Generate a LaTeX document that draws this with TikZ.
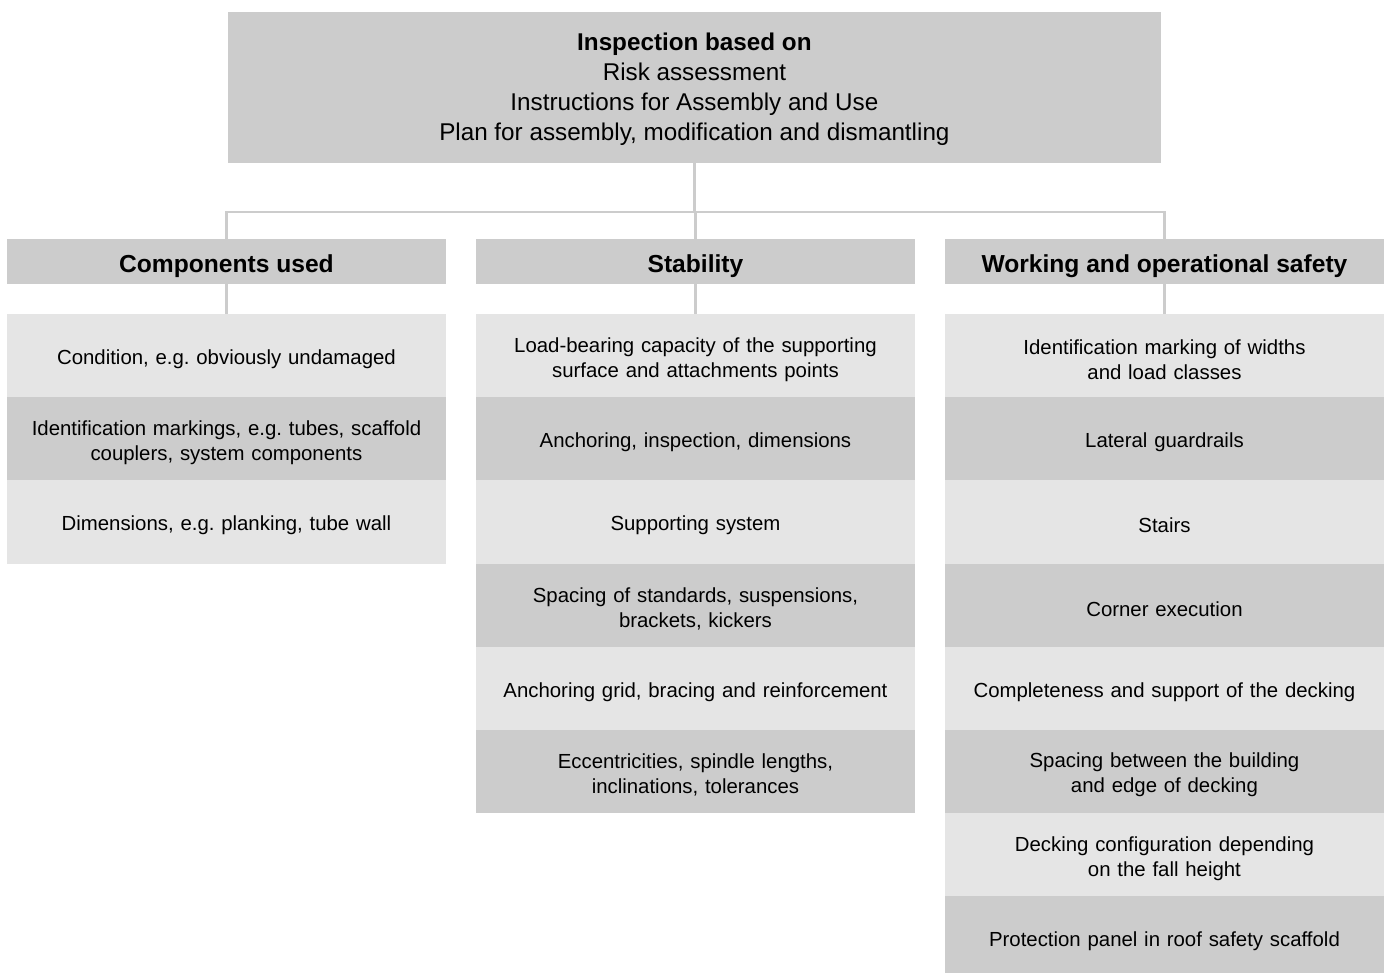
\documentclass[tikz,border=0pt]{standalone}
\usepackage{fontspec}
\setmainfont{Liberation Sans}
\usetikzlibrary{positioning}

\definecolor{boxdark}{RGB}{204,204,204}
\definecolor{boxlight}{RGB}{229,229,229}
\frenchspacing

\begin{document}
\begin{tikzpicture}[x=0.02cm, y=-0.02cm,
    topbox/.style={fill=boxdark, anchor=north west, outer sep=0pt, inner sep=0pt,
      minimum width=18.66cm, minimum height=3.02cm, align=center,
      font=\fontsize{13.8}{17}\selectfont},
    headbox/.style={fill=boxdark, anchor=north west, outer sep=0pt, inner sep=0pt,
      minimum width=8.78cm, minimum height=0.9cm,
      font=\fontsize{14}{17}\selectfont\bfseries,
      execute at begin node={\rule{0pt}{15.2pt}}},
    itembox/.style={outer sep=0pt, inner sep=0pt, minimum width=8.78cm,
      minimum height=1.664cm, align=center, text width=8.3cm,
      font=\fontsize{11.6}{14.2}\selectfont,
      execute at begin node={\rule{0pt}{12.6pt}}},
    lightitem/.style={itembox, fill=boxlight},
    darkitem/.style={itembox, fill=boxdark},
    conn/.style={draw=boxdark, line width=1.7pt}]
  \useasboundingbox (0,0) rectangle (1389,973);
  \clip (0,0) rectangle (1389,973);

  % top box
  \node[topbox] (insp) at (228,12) {\rule{0pt}{12.2pt}\textbf{Inspection based on}\\Risk assessment\\
    Instructions for Assembly and Use\\Plan for assembly, modification and dismantling};

  % column headers
  \node[headbox] (comp) at (7,239) {Components used};
  \node[headbox] (stab) at (476,239) {Stability};
  \node[headbox] (work) at (945,239) {Working and operational safety};

  % components used
  \node[lightitem, anchor=north west] (c1) at (7,314) {Condition, e.g. obviously undamaged};
  \node[darkitem, below=0pt of c1] (c2) {Identification markings, e.g. tubes, scaffold\\couplers, system components};
  \node[lightitem, below=0pt of c2] (c3) {Dimensions, e.g. planking, tube wall};

  % stability
  \node[lightitem, anchor=north west] (s1) at (476,314) {Load-bearing capacity of the supporting\\surface and attachments points};
  \node[darkitem, below=0pt of s1] (s2) {Anchoring, inspection, dimensions};
  \node[lightitem, below=0pt of s2] (s3) {Supporting system};
  \node[darkitem, below=0pt of s3] (s4) {Spacing of standards, suspensions,\\brackets, kickers};
  \node[lightitem, below=0pt of s4] (s5) {Anchoring grid, bracing and reinforcement};
  \node[darkitem, below=0pt of s5] (s6) {Eccentricities, spindle lengths,\\inclinations, tolerances};

  % working and operational safety
  \node[lightitem, anchor=north west] (w1) at (945,314) {Identification marking of widths\\and load classes};
  \node[darkitem, below=0pt of w1] (w2) {Lateral guardrails};
  \node[lightitem, below=0pt of w2] (w3) {Stairs};
  \node[darkitem, below=0pt of w3] (w4) {Corner execution};
  \node[lightitem, below=0pt of w4] (w5) {Completeness and support of the decking};
  \node[darkitem, below=0pt of w5] (w6) {Spacing between the building\\and edge of decking};
  \node[lightitem, below=0pt of w6] (w7) {Decking configuration depending\\on the fall height};
  \node[darkitem, below=0pt of w7] (w8) {Protection panel in roof safety scaffold};

  % connectors
  \coordinate (bar) at (0,212);
  \draw[conn] (insp.south) -- (insp.south |- bar);
  \draw[conn] (comp.north) |- (work.north |- bar) -- (work.north);
  \draw[conn] (stab.north) -- (stab.north |- bar);
  \draw[conn] (comp.south) -- (c1.north);
  \draw[conn] (stab.south) -- (s1.north);
  \draw[conn] (work.south) -- (w1.north);
\end{tikzpicture}
\end{document}
